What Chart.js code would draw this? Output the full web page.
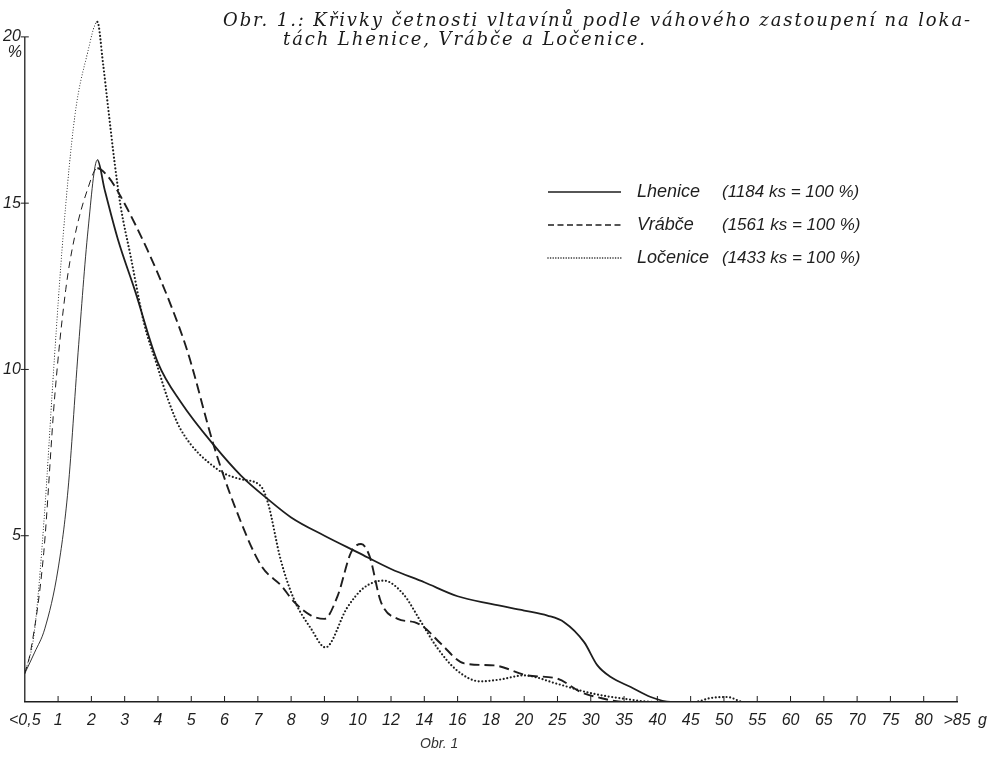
<!DOCTYPE html>
<html lang="cs">
<head>
<meta charset="UTF-8">
<title>Obr. 1 - Křivky četnosti vltavínů</title>
<style>
    body {
        margin: 0;
        background: #fff;
    }
    .wrap {
        position: relative;
        width: 990px;
        height: 772px;
        overflow: hidden;
    }
    #chart {
        position: absolute;
        left: 0;
        top: 0;
    }
    .title {
        position: absolute;
        left: 223px;
        top: 10px;
        font-family: "DejaVu Serif", serif;
        font-style: italic;
        font-size: 18px;
        line-height: 19px;
        color: #1a1a1a;
        white-space: nowrap;
    }
    .title .l2 {
        padding-left: 60px;
    }
    .caption {
        position: absolute;
        left: 420px;
        top: 735px;
        font-family: "Liberation Sans", sans-serif;
        font-style: italic;
        font-size: 14px;
        color: #333;
    }
</style>
</head>
<body>
<div class="wrap">
    <canvas id="chart" width="990" height="772"></canvas>
    <div class="title">
        <div><span id="t1">Obr. 1.: Křivky četnosti vltavínů podle váhového zastoupení na loka-</span></div>
        <div class="l2"><span id="t2">tách Lhenice, Vrábče a Ločenice.</span></div>
    </div>
    <div class="caption">Obr. 1</div>
</div>

<script src="https://cdn.jsdelivr.net/npm/chart.js@4"></script>
<script>
    // weight classes on the x axis (g)
    const categories = ['<0,5', '1', '2', '3', '4', '5', '6', '7', '8', '9', '10', '12', '14', '16', '18',
        '20', '25', '30', '35', '40', '45', '50', '55', '60', '65', '70', '75', '80', '>85'];
    const yTicks = [5, 10, 15, 20];

    // [position on the class axis, % of pieces]
    const lhenice = [[0, 0.86], [0.3, 1.5], [0.6, 2.2], [1, 4.0], [1.3, 6.4], [1.6, 10.5], [1.9, 14.2],
        [2.18, 16.3], [2.4, 15.4], [2.8, 13.9], [3.3, 12.4], [4, 10.2], [4.7, 9.0], [5.7, 7.7], [6.5, 6.8],
        [7.3, 6.1], [8, 5.55], [9, 5.0], [10, 4.5], [11, 4.0], [12, 3.6], [13, 3.18], [14, 2.95], [15, 2.75],
        [15.7, 2.6], [16.2, 2.4], [16.8, 1.8], [17.2, 1.1], [17.6, 0.75], [18.2, 0.45], [18.8, 0.15],
        [19.4, 0], [28, 0]];
    const vrabce = [[0, 0.86], [0.18, 1.55], [0.57, 4.5], [0.9, 9.2], [1.23, 12.4], [1.5, 14.0], [1.88, 15.4],
        [2.18, 16.05], [2.5, 15.8], [2.88, 15.2], [3.68, 13.6], [4.38, 11.95], [4.9, 10.5], [5.68, 7.7],
        [6.3, 5.9], [7.1, 4.1], [7.7, 3.5], [8.1, 3.0], [8.6, 2.6], [9.0, 2.5], [9.4, 3.2], [9.8, 4.5],
        [10.1, 4.75], [10.35, 4.4], [10.7, 3.0], [11.2, 2.5], [11.7, 2.4], [12.0, 2.24], [12.5, 1.75],
        [13.2, 1.16], [14.1, 1.1], [15.1, 0.8], [16, 0.7], [16.7, 0.3], [17.3, 0.12], [18, 0], [28, 0]];
    const locenice = [[0, 0.86], [0.28, 2.05], [0.58, 5.5], [0.88, 10.2], [1.15, 14.0], [1.5, 17.6],
        [1.88, 19.5], [2.18, 20.45], [2.35, 19.2], [2.5, 17.9], [2.7, 16.2], [2.88, 14.9], [3.18, 13.4],
        [3.58, 11.4], [3.98, 10.1], [4.3, 9.1], [4.68, 8.2], [5.78, 7.0], [6.48, 6.7], [7.08, 6.5],
        [7.3, 6.0], [7.68, 4.3], [8.08, 3.1], [8.6, 2.2], [9.03, 1.64], [9.68, 2.83], [10.18, 3.43],
        [10.78, 3.65], [11.38, 3.23], [11.88, 2.44], [12.38, 1.64], [12.98, 0.95], [13.68, 0.62],
        [14.3, 0.68], [14.98, 0.8], [15.98, 0.55], [16.98, 0.27], [17.98, 0.1], [18.98, 0], [20.1, 0],
        [20.6, 0.12], [21.1, 0.15], [21.6, 0], [28, 0]];

    const sites = ['Lhenice', 'Vrábče', 'Ločenice'];
    const counts = [1184, 1561, 1433];

    const ink = '#1e1e1e';
    const peakX = 2.18;

    function toXY(pairs) {
        return pairs.map(p => ({ x: p[0], y: p[1] }));
    }
    // the rising flank is drawn thinner in the original
    const rising = c => c.p1.parsed.x <= peakX;

    const datasets = [
        {
            label: sites[0],
            data: toXY(lhenice),
            borderColor: ink,
            borderWidth: 1.8,
            segment: { borderWidth: c => rising(c) ? 0.9 : undefined }
        },
        {
            label: sites[1],
            data: toXY(vrabce),
            borderColor: ink,
            borderWidth: 1.9,
            borderDash: [10, 5],
            segment: {
                borderWidth: c => rising(c) ? 1.0 : undefined,
                borderDash: c => rising(c) ? [7, 5] : undefined
            }
        },
        {
            label: sites[2],
            data: toXY(locenice),
            borderColor: ink,
            borderWidth: 2.2,
            borderDash: [0, 3.6],
            borderCapStyle: 'round',
            segment: {
                borderWidth: c => rising(c) ? 1.1 : undefined,
                borderDash: c => rising(c) ? [0, 2.8] : undefined
            }
        }
    ];

    // axis line, tick marks, unit labels and legend
    const decor = {
        id: 'decor',
        afterDraw(chart) {
            const { ctx, scales: { x, y } } = chart;
            const x0 = x.getPixelForValue(0);
            const y0 = y.getPixelForValue(0);
            ctx.save();
            ctx.strokeStyle = ink;
            ctx.fillStyle = ink;
            ctx.lineWidth = 1.3;

            ctx.beginPath();
            ctx.moveTo(x0, y0);
            ctx.lineTo(x0, y.getPixelForValue(20));
            ctx.stroke();

            ctx.lineWidth = 1;
            yTicks.forEach(v => {
                const p = y.getPixelForValue(v);
                ctx.beginPath();
                ctx.moveTo(x0 - 4, p);
                ctx.lineTo(x0 + 4, p);
                ctx.stroke();
            });
            for (let i = 1; i < categories.length; i++) {
                const p = x.getPixelForValue(i);
                ctx.beginPath();
                ctx.moveTo(p, y0);
                ctx.lineTo(p, y0 - 6);
                ctx.stroke();
            }

            ctx.font = 'italic 16px "Liberation Sans"';
            ctx.textAlign = 'center';
            ctx.fillText('%', x0 - 10, y.getPixelForValue(20) + 20);
            ctx.textAlign = 'left';
            ctx.fillText('g', x.getPixelForValue(categories.length - 1) + 21, y0 + 23);

            // legend
            const rows = [192, 225, 258];
            chart.data.datasets.forEach((ds, i) => {
                const ly = rows[i];
                ctx.save();
                ctx.lineWidth = i === 2 ? 1.6 : 1.5;
                ctx.lineCap = i === 2 ? 'round' : 'butt';
                ctx.setLineDash(i === 0 ? [] : (i === 1 ? [6, 3.5] : [0, 2.6]));
                ctx.beginPath();
                ctx.moveTo(548, ly);
                ctx.lineTo(621, ly);
                ctx.stroke();
                ctx.restore();
                ctx.font = 'italic 18px "Liberation Sans"';
                ctx.textBaseline = 'middle';
                ctx.fillText(sites[i], 637, ly);
                ctx.font = 'italic 17px "Liberation Sans"';
                ctx.fillText('(' + counts[i] + ' ks = 100 %)', 722, ly);
            });
            ctx.restore();
        }
    };

    const tickFont = { family: '"Liberation Sans", sans-serif', size: 16, style: 'italic' };

    const chart = new Chart(document.getElementById('chart'), {
        type: 'line',
        data: { datasets: datasets },
        options: {
            responsive: false,
            animation: false,
            events: [],
            layout: { padding: { top: 5, right: 33, left: 0, bottom: 0 } },
            elements: {
                point: { radius: 0 },
                line: { cubicInterpolationMode: 'monotone', fill: false }
            },
            plugins: {
                legend: { display: false },
                tooltip: { enabled: false }
            },
            scales: {
                x: {
                    type: 'linear',
                    min: 0,
                    max: categories.length - 1,
                    grid: { display: false, drawTicks: false },
                    border: { display: true, color: ink, width: 1.5 },
                    ticks: {
                        stepSize: 1,
                        autoSkip: false,
                        maxRotation: 0,
                        padding: 9,
                        color: ink,
                        font: tickFont,
                        callback: v => categories[v]
                    },
                    afterFit: s => { s.height = 70; }
                },
                y: {
                    min: 0,
                    max: 20.7,
                    grid: { display: false, drawTicks: false },
                    border: { display: false },
                    afterBuildTicks: s => { s.ticks = yTicks.map(v => ({ value: v })); },
                    ticks: {
                        padding: 4,
                        color: ink,
                        font: tickFont
                    },
                    afterFit: s => { s.width = 24; }
                }
            }
        },
        plugins: [decor]
    });

    // spread the title letters so the first line spans the same width as the print
    const t1 = document.getElementById('t1');
    const t2 = document.getElementById('t2');
    const natural = t1.getBoundingClientRect().width;
    const ls = Math.max(0, (749 - natural) / t1.textContent.length);
    t1.style.letterSpacing = ls + 'px';
    t2.style.letterSpacing = ls + 'px';
</script>
</body>
</html>
